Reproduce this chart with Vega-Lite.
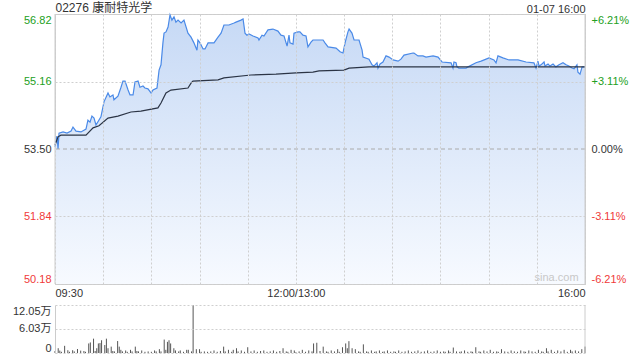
{
  "$schema": "https://vega.github.io/schema/vega-lite/v6.json",
  "padding": {"left": 0, "top": 0, "right": 0, "bottom": 0},
  "background": "white",
  "spacing": 5,
  "config": {
    "font": "Liberation Sans, Noto Sans CJK SC",
    "view": {"stroke": null},
    "axis": {
      "labelFont": "Liberation Sans, Noto Sans CJK SC",
      "labelColor": "#333333",
      "labelFontSize": 11,
      "ticks": false,
      "domain": false,
      "title": null,
      "zindex": 1,
      "gridColor": "#cfcfcf",
      "gridDash": [2, 2],
      "grid": false
    }
  },
  "datasets": {
    "price": [
      {"t":0,"p":53.55},{"t":1.2,"p":53.82},{"t":1.9,"p":53.50},{"t":2.5,"p":53.89},{"t":5.0,"p":53.92},{"t":7.5,"p":53.89},{"t":10.0,"p":53.94},{"t":11.2,"p":54.04},{"t":13.1,"p":53.94},{"t":16.2,"p":53.92},{"t":19.3,"p":53.99},{"t":20.5,"p":54.21},{"t":21.8,"p":54.16},{"t":23.0,"p":54.31},{"t":24.3,"p":54.26},{"t":25.5,"p":54.09},{"t":28.6,"p":54.29},{"t":30.5,"p":54.66},{"t":33.0,"p":54.88},{"t":34.2,"p":54.78},{"t":36.1,"p":54.83},{"t":36.7,"p":54.71},{"t":39.2,"p":54.80},{"t":41.1,"p":55.02},{"t":42.3,"p":55.17},{"t":43.6,"p":55.17},{"t":45.5,"p":54.95},{"t":46.7,"p":54.83},{"t":48.6,"p":54.83},{"t":49.8,"p":55.15},{"t":51.7,"p":55.17},{"t":52.9,"p":55.02},{"t":54.8,"p":55.05},{"t":56.0,"p":55.00},{"t":57.9,"p":54.98},{"t":59.8,"p":54.88},{"t":61.0,"p":54.95},{"t":63.5,"p":55.00},{"t":64.8,"p":55.44},{"t":66.0,"p":55.57},{"t":67.2,"p":56.11},{"t":67.9,"p":56.35},{"t":69.1,"p":56.38},{"t":70.4,"p":56.50},{"t":71.6,"p":56.80},{"t":72.8,"p":56.67},{"t":74.1,"p":56.75},{"t":75.3,"p":56.62},{"t":76.6,"p":56.67},{"t":78.5,"p":56.60},{"t":80.3,"p":56.67},{"t":82.8,"p":56.35},{"t":84.7,"p":56.25},{"t":86.5,"p":56.11},{"t":88.4,"p":55.93},{"t":89.0,"p":56.18},{"t":90.3,"p":56.11},{"t":92.2,"p":55.96},{"t":93.4,"p":55.96},{"t":95.3,"p":56.11},{"t":99.0,"p":56.11},{"t":101.5,"p":56.25},{"t":103.4,"p":56.35},{"t":105.2,"p":56.55},{"t":108.3,"p":56.55},{"t":111.5,"p":56.60},{"t":112.7,"p":56.62},{"t":115.8,"p":56.67},{"t":117.1,"p":56.70},{"t":118.3,"p":56.35},{"t":119.5,"p":56.30},{"t":120.8,"p":56.33},{"t":123.3,"p":56.28},{"t":126.4,"p":56.23},{"t":127.0,"p":56.18},{"t":128.9,"p":56.30},{"t":130.1,"p":56.28},{"t":132.6,"p":56.43},{"t":135.7,"p":56.45},{"t":138.8,"p":56.40},{"t":140.7,"p":56.30},{"t":142.6,"p":56.28},{"t":144.5,"p":56.03},{"t":145.7,"p":56.30},{"t":146.3,"p":56.11},{"t":148.2,"p":56.08},{"t":148.8,"p":56.35},{"t":151.3,"p":56.38},{"t":152.5,"p":56.38},{"t":154.4,"p":56.30},{"t":156.3,"p":56.28},{"t":157.5,"p":56.01},{"t":159.4,"p":56.13},{"t":160.6,"p":56.18},{"t":166.9,"p":56.18},{"t":168.1,"p":56.11},{"t":170.0,"p":56.01},{"t":175.0,"p":55.98},{"t":177.5,"p":55.89},{"t":179.3,"p":55.86},{"t":180.6,"p":56.11},{"t":182.4,"p":56.38},{"t":183.1,"p":56.45},{"t":184.9,"p":56.35},{"t":186.2,"p":56.18},{"t":189.3,"p":56.18},{"t":191.2,"p":55.93},{"t":191.8,"p":55.76},{"t":195.5,"p":55.71},{"t":197.4,"p":55.57},{"t":198.6,"p":55.54},{"t":200.5,"p":55.62},{"t":201.1,"p":55.49},{"t":202.4,"p":55.59},{"t":204.2,"p":55.64},{"t":206.1,"p":55.79},{"t":208.0,"p":55.76},{"t":210.5,"p":55.69},{"t":213.6,"p":55.66},{"t":215.4,"p":55.71},{"t":217.3,"p":55.81},{"t":222.9,"p":55.86},{"t":223.5,"p":55.86},{"t":226.0,"p":55.79},{"t":229.1,"p":55.79},{"t":231.0,"p":55.76},{"t":235.4,"p":55.79},{"t":238.5,"p":55.76},{"t":241.0,"p":55.64},{"t":246.6,"p":55.62},{"t":247.8,"p":55.49},{"t":248.4,"p":55.64},{"t":249.7,"p":55.62},{"t":250.3,"p":55.52},{"t":251.5,"p":55.49},{"t":255.9,"p":55.49},{"t":257.2,"p":55.52},{"t":262.1,"p":55.62},{"t":265.3,"p":55.66},{"t":268.4,"p":55.71},{"t":270.2,"p":55.74},{"t":273.3,"p":55.69},{"t":274.6,"p":55.62},{"t":275.8,"p":55.79},{"t":278.9,"p":55.74},{"t":282.7,"p":55.69},{"t":288.3,"p":55.69},{"t":293.3,"p":55.64},{"t":298.2,"p":55.62},{"t":299.5,"p":55.49},{"t":300.7,"p":55.66},{"t":301.4,"p":55.54},{"t":302.6,"p":55.57},{"t":304.5,"p":55.64},{"t":305.1,"p":55.54},{"t":307.0,"p":55.59},{"t":308.2,"p":55.54},{"t":310.1,"p":55.59},{"t":311.9,"p":55.52},{"t":313.8,"p":55.57},{"t":316.3,"p":55.62},{"t":318.2,"p":55.57},{"t":320.0,"p":55.54},{"t":321.9,"p":55.49},{"t":323.2,"p":55.47},{"t":325.0,"p":55.57},{"t":325.6,"p":55.39},{"t":326.9,"p":55.34},{"t":328.2,"p":55.52},{"t":330,"p":55.52}
    ],
    "avg": [
      {"t":0,"p":53.60},{"t":1.9,"p":53.80},{"t":3.7,"p":53.84},{"t":10.0,"p":53.84},{"t":19.3,"p":53.84},{"t":23.7,"p":54.02},{"t":27.4,"p":54.07},{"t":33.0,"p":54.26},{"t":39.2,"p":54.31},{"t":47.3,"p":54.41},{"t":53.5,"p":54.43},{"t":64.1,"p":54.51},{"t":66.0,"p":54.63},{"t":69.1,"p":54.88},{"t":72.2,"p":54.95},{"t":82.8,"p":55.00},{"t":84.7,"p":55.12},{"t":85.9,"p":55.17},{"t":101.5,"p":55.20},{"t":105.2,"p":55.25},{"t":122.0,"p":55.32},{"t":137.6,"p":55.34},{"t":150.1,"p":55.37},{"t":160.6,"p":55.39},{"t":164.4,"p":55.42},{"t":179.9,"p":55.44},{"t":183.1,"p":55.49},{"t":195.5,"p":55.52},{"t":330,"p":55.52}
    ],
    "vol": [
      {"t":0,"v":0.5},{"t":2,"v":1.2},{"t":3,"v":0.6},{"t":4,"v":0.3},{"t":6,"v":1.8},{"t":8,"v":0.7},{"t":9,"v":0.3},{"t":11,"v":0.7},{"t":12,"v":0.4},{"t":14,"v":1.0},{"t":16,"v":0.6},{"t":18,"v":0.5},{"t":19,"v":0.3},{"t":21,"v":2.4},{"t":22,"v":2.65},{"t":24,"v":3.6},{"t":25,"v":0.5},{"t":26,"v":1.2},{"t":27,"v":2.4},{"t":28,"v":2.5},{"t":29,"v":3.2},{"t":31,"v":2.0},{"t":32,"v":3.6},{"t":33,"v":1.2},{"t":35,"v":1.6},{"t":36,"v":0.5},{"t":37,"v":0.4},{"t":39,"v":3.0},{"t":40,"v":1.6},{"t":41,"v":0.8},{"t":42,"v":0.4},{"t":44,"v":0.64},{"t":45,"v":0.3},{"t":47,"v":0.8},{"t":48,"v":0.4},{"t":50,"v":1.6},{"t":51,"v":0.5},{"t":52,"v":0.4},{"t":54,"v":0.64},{"t":56,"v":0.3},{"t":58,"v":0.4},{"t":60,"v":0.3},{"t":62,"v":0.64},{"t":63,"v":0.4},{"t":65,"v":0.96},{"t":66,"v":0.4},{"t":68,"v":3.37},{"t":69,"v":0.8},{"t":70,"v":2.8},{"t":71,"v":3.2},{"t":72,"v":2.4},{"t":74,"v":1.2},{"t":75,"v":0.64},{"t":77,"v":0.4},{"t":78,"v":0.64},{"t":80,"v":0.3},{"t":82,"v":0.8},{"t":83,"v":0.8},{"t":85,"v":0.4},{"t":86,"v":12.05},{"t":88,"v":0.96},{"t":90,"v":0.96},{"t":91,"v":0.3},{"t":93,"v":0.4},{"t":95,"v":0.3},{"t":97,"v":0.4},{"t":99,"v":0.64},{"t":101,"v":0.3},{"t":103,"v":0.5},{"t":105,"v":1.6},{"t":106,"v":0.4},{"t":108,"v":0.8},{"t":110,"v":0.3},{"t":111,"v":0.8},{"t":113,"v":1.2},{"t":114,"v":0.4},{"t":116,"v":0.64},{"t":118,"v":0.3},{"t":120,"v":1.45},{"t":122,"v":0.4},{"t":124,"v":0.64},{"t":126,"v":0.3},{"t":128,"v":0.5},{"t":130,"v":0.64},{"t":132,"v":0.3},{"t":134,"v":0.4},{"t":136,"v":0.64},{"t":138,"v":0.3},{"t":140,"v":0.5},{"t":142,"v":1.2},{"t":144,"v":0.4},{"t":145,"v":0.3},{"t":147,"v":0.8},{"t":149,"v":0.64},{"t":150,"v":0.2},{"t":152,"v":0.4},{"t":154,"v":0.8},{"t":156,"v":0.3},{"t":158,"v":0.64},{"t":160,"v":0.4},{"t":161,"v":2.4},{"t":163,"v":2.57},{"t":165,"v":0.5},{"t":167,"v":1.6},{"t":169,"v":0.4},{"t":170,"v":0.3},{"t":172,"v":0.64},{"t":174,"v":0.4},{"t":176,"v":0.96},{"t":177,"v":0.3},{"t":179,"v":1.45},{"t":181,"v":2.4},{"t":182,"v":1.2},{"t":183,"v":2.97},{"t":185,"v":1.2},{"t":187,"v":0.96},{"t":189,"v":0.4},{"t":190,"v":0.3},{"t":192,"v":2.17},{"t":194,"v":0.4},{"t":195,"v":0.3},{"t":197,"v":0.64},{"t":199,"v":0.3},{"t":200,"v":0.4},{"t":202,"v":0.64},{"t":204,"v":0.3},{"t":205,"v":0.4},{"t":207,"v":0.64},{"t":209,"v":0.3},{"t":211,"v":0.4},{"t":212,"v":0.3},{"t":214,"v":0.64},{"t":216,"v":0.3},{"t":218,"v":0.4},{"t":220,"v":0.64},{"t":222,"v":0.3},{"t":224,"v":0.4},{"t":226,"v":0.64},{"t":228,"v":0.3},{"t":230,"v":0.4},{"t":232,"v":0.64},{"t":234,"v":0.3},{"t":236,"v":0.4},{"t":238,"v":0.64},{"t":240,"v":0.3},{"t":242,"v":0.4},{"t":243,"v":0.3},{"t":245,"v":0.64},{"t":246,"v":0.3},{"t":248,"v":1.37},{"t":250,"v":0.4},{"t":252,"v":0.3},{"t":253,"v":0.4},{"t":255,"v":0.64},{"t":257,"v":0.3},{"t":259,"v":0.4},{"t":260,"v":0.3},{"t":262,"v":1.45},{"t":264,"v":0.4},{"t":265,"v":0.3},{"t":267,"v":0.64},{"t":269,"v":0.4},{"t":271,"v":0.8},{"t":273,"v":0.3},{"t":275,"v":0.4},{"t":276,"v":0.3},{"t":278,"v":0.96},{"t":280,"v":0.4},{"t":282,"v":0.3},{"t":284,"v":0.64},{"t":286,"v":0.4},{"t":288,"v":0.3},{"t":290,"v":0.64},{"t":292,"v":0.4},{"t":293,"v":0.3},{"t":295,"v":0.64},{"t":297,"v":0.4},{"t":299,"v":0.3},{"t":301,"v":0.8},{"t":303,"v":0.4},{"t":304,"v":0.3},{"t":306,"v":1.2},{"t":307,"v":0.4},{"t":309,"v":0.8},{"t":311,"v":0.3},{"t":313,"v":0.64},{"t":315,"v":0.4},{"t":317,"v":0.8},{"t":319,"v":0.3},{"t":321,"v":0.8},{"t":322,"v":0.4},{"t":324,"v":0.64},{"t":326,"v":0.4},{"t":328,"v":0.96},{"t":330,"v":1.61}
    ]
  },
  "vconcat": [
    {
      "width": 530,
      "height": 270,
      "view": {"stroke": "#cccccc"},
      "layer": [
        {
          "layer": [
            {
              "data": {"name": "price"},
              "mark": {
                "type": "area",
                "color": {
                  "gradient": "linear", "x1": 0, "y1": 0, "x2": 0, "y2": 1,
                  "stops": [{"offset": 0, "color": "#c6d9f5"}, {"offset": 1, "color": "#f7faff"}]
                },
                "opacity": 1
              },
              "encoding": {
                "x": {
                  "field": "t", "type": "quantitative",
                  "scale": {"domain": [0, 330], "nice": false, "zero": false},
                  "axis": {
                    "values": [0, 30, 60, 90, 120, 150, 180, 210, 240, 270, 300, 330],
                    "labelExpr": "datum.value == 0 ? '09:30' : datum.value == 150 ? '12:00/13:00' : datum.value == 330 ? '16:00' : ''",
                    "labelFlush": true,
                    "labelOverlap": false,
                    "labelPadding": 3,
                    "grid": true,
                    "zindex": 1
                  }
                },
                "y": {
                  "field": "p", "type": "quantitative",
                  "scale": {"domain": [50.18, 56.82], "nice": false, "zero": false},
                  "axis": {
                    "orient": "left",
                    "values": [50.18, 51.84, 53.5, 55.16, 56.82],
                    "format": ".2f",
                    "labelFlush": true,
                    "labelPadding": 4,
                    "grid": true,
                    "zindex": 1,
                    "gridOpacity": {"expr": "datum.value == 53.5 ? 0 : 1"},
                    "labelColor": {"expr": "datum.value > 53.51 ? '#22a022' : datum.value < 53.49 ? '#f03a3a' : '#333333'"},
                    "minExtent": 54,
                    "maxExtent": 54
                  }
                },
                "y2": {"datum": 50.18}
              }
            },
            {
              "data": {"name": "price"},
              "mark": {"type": "line", "color": "#4a8ae8", "strokeWidth": 1.2},
              "encoding": {
                "x": {"field": "t", "type": "quantitative"},
                "y": {"field": "p", "type": "quantitative"}
              }
            },
            {
              "data": {"name": "avg"},
              "mark": {"type": "line", "color": "#2b3445", "strokeWidth": 1.2},
              "encoding": {
                "x": {"field": "t", "type": "quantitative"},
                "y": {"field": "p", "type": "quantitative"}
              }
            },
            {
              "data": {"values": [{"label": "sina.com"}]},
              "mark": {"type": "text", "align": "right", "baseline": "middle", "color": "#c8c8c8", "fontSize": 11},
              "encoding": {
                "x": {"datum": 326},
                "y": {"datum": 50.33},
                "text": {"field": "label"}
              }
            }
          ]
        },
        {
          "data": {"values": [{"p": 53.5}]},
          "mark": {"type": "rule", "color": "#aaaaaa", "strokeDash": [4, 3]},
          "encoding": {
            "y": {
              "field": "p", "type": "quantitative",
              "scale": {"domain": [50.18, 56.82], "nice": false, "zero": false},
              "axis": {
                "orient": "right",
                "values": [50.18, 51.84, 53.5, 55.16, 56.82],
                "labelExpr": "datum.value > 56.8 ? '+6.21%' : datum.value > 55.1 ? '+3.11%' : datum.value > 53.4 ? '0.00%' : datum.value > 51.8 ? '-3.11%' : '-6.21%'",
                "labelColor": {"expr": "datum.value > 53.51 ? '#22a022' : datum.value < 53.49 ? '#f03a3a' : '#333333'"},
                "labelFlush": true,
                "labelPadding": 6,
                "grid": false
              }
            }
          }
        },
        {
          "data": {"values": [{"t": 0}, {"t": 330}]},
          "mark": {"type": "rule", "color": "#cccccc"},
          "encoding": {
            "x": {
              "field": "t", "type": "quantitative",
              "scale": {"domain": [0, 330], "nice": false, "zero": false},
              "axis": {
                "orient": "top",
                "values": [0, 330],
                "labelExpr": "datum.value == 0 ? '02276 康耐特光学' : '01-07 16:00'",
                "labelFontSize": {"expr": "datum.value == 0 ? 12 : 11"},
                "labelFlush": true,
                "labelOverlap": false,
                "labelPadding": 0,
                "grid": false
              }
            }
          }
        }
      ],
      "resolve": {"scale": {"x": "independent", "y": "independent"}}
    },
    {
      "width": 530,
      "height": 48,
      "view": {"stroke": null},
      "layer": [
        {
          "data": {"name": "vol"},
          "mark": {"type": "rule", "color": "#555555", "strokeWidth": 1},
          "encoding": {
            "x": {"field": "t", "type": "quantitative", "scale": {"domain": [0, 330], "nice": false, "zero": false}, "axis": null},
            "y": {
              "field": "v", "type": "quantitative",
              "scale": {"domain": [0, 12.05], "nice": false},
              "axis": {
                "values": [0, 6.03, 12.05],
                "labelExpr": "datum.value == 0 ? '0' : format(datum.value, '.2f') + '万'",
                "labelFlush": true,
                "labelPadding": 4,
                "grid": true,
                "zindex": 1,
                "domain": true,
                "domainColor": "#cccccc",
                "minExtent": 54,
                "maxExtent": 54
              }
            },
            "y2": {"datum": 0}
          }
        },
        {
          "data": {"values": [{"t": 330}]},
          "mark": {"type": "rule", "color": "#cccccc"},
          "encoding": {"x": {"field": "t", "type": "quantitative"}}
        }
      ]
    }
  ]
}
